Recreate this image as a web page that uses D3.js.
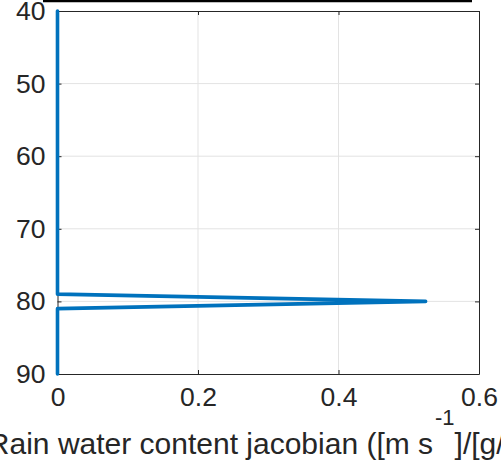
<!DOCTYPE html>
<html>
<head>
<meta charset="utf-8">
<script src="https://cdn.jsdelivr.net/npm/d3@7"></script>
<style>
  body { margin: 0; background: #fff; }
  svg { display: block; font-family: "Liberation Sans", Arial, sans-serif; }
</style>
</head>
<body>
<svg id="chart" width="501" height="460"></svg>
<script>
// jacobian profile (height vs value)
const heights = [40, 79, 80, 81, 90];
const jacobian = [0, 0, 0.524, 0, 0];
const xTicks = [0, 0.2, 0.4, 0.6];
const yTicks = [40, 50, 60, 70, 80, 90];

const svg = d3.select("#chart");
const plotL = 57.5, plotR = 479, plotT = 11, plotB = 374;
const axisColor = "#262626";

const x = d3.scaleLinear().domain([0, 0.6]).range([plotL, plotR]);
const y = d3.scaleLinear().domain([40, 90]).range([plotT, plotB]);

// strip of the panel above
svg.append("line")
  .attr("x1", 43).attr("x2", 472)
  .attr("y1", 1).attr("y2", 1)
  .attr("stroke", "#000").attr("stroke-width", 2.5);

// grid
const grid = svg.append("g").attr("stroke", "#e3e3e3").attr("stroke-width", 1);
grid.selectAll(".gx").data(xTicks.slice(1, -1)).enter().append("line")
  .attr("x1", d => x(d)).attr("x2", d => x(d))
  .attr("y1", plotT).attr("y2", plotB);
grid.selectAll(".gy").data(yTicks.slice(1, -1)).enter().append("line")
  .attr("y1", d => y(d)).attr("y2", d => y(d))
  .attr("x1", plotL).attr("x2", plotR);

// axes with inward ticks
const fs = 26.5;
const xAxis = svg.append("g").attr("transform", `translate(0,${plotB})`)
  .call(d3.axisBottom(x).tickValues(xTicks).tickFormat(d3.format("")).tickSizeInner(-4).tickSizeOuter(0).tickPadding(13));
const xAxisTop = svg.append("g").attr("transform", `translate(0,${plotT})`)
  .call(d3.axisTop(x).tickValues(xTicks).tickFormat("").tickSizeInner(-4).tickSizeOuter(0));
const yAxis = svg.append("g").attr("transform", `translate(${plotL},0)`)
  .call(d3.axisLeft(y).tickValues(yTicks).tickSizeInner(-4).tickSizeOuter(0).tickPadding(12));
const yAxisRight = svg.append("g").attr("transform", `translate(${plotR},0)`)
  .call(d3.axisRight(y).tickValues(yTicks).tickFormat("").tickSizeInner(-4).tickSizeOuter(0));

[xAxis, xAxisTop, yAxis, yAxisRight].forEach(g => {
  g.select(".domain").attr("stroke", axisColor).attr("stroke-width", 1);
  g.selectAll(".tick line").attr("stroke", axisColor).attr("stroke-width", 1);
  g.selectAll("text").attr("fill", axisColor)
    .style("font-size", fs + "px").style("font-family", "'Liberation Sans', Arial, sans-serif");
});
xAxis.selectAll("text").attr("dy", "0.71em");

// profile line
const line = d3.line().x(d => x(d[1])).y(d => y(d[0]));
svg.append("path")
  .datum(heights.map((h, i) => [h, jacobian[i]]))
  .attr("d", line)
  .attr("fill", "none")
  .attr("stroke", "#0072BD")
  .attr("stroke-width", 3.6)
  .attr("stroke-linejoin", "round")
  .attr("stroke-linecap", "round");

// x label, laid out piece by piece so the superscript sits right after "s"
const parts = [
  {t: "Rain water content jacobian ([m s", size: 30, dy: 0},
  {t: "-1", size: 22, dy: -29},
  {t: "]/[g/kg])", size: 30, dy: 0}
];
const labelY = 454;
const labelG = svg.append("g").attr("fill", axisColor);
const nodes = parts.map(p => labelG.append("text")
  .attr("y", labelY + p.dy)
  .style("font-size", p.size + "px")
  .text(p.t));
const widths = nodes.map(n => n.node().getComputedTextLength());
const total = d3.sum(widths);
let cx = (plotL + plotR) / 2 + 2 - total / 2;
nodes.forEach((n, i) => { n.attr("x", cx); cx += widths[i] + (i === 0 ? 2 : 0); });
</script>
</body>
</html>
